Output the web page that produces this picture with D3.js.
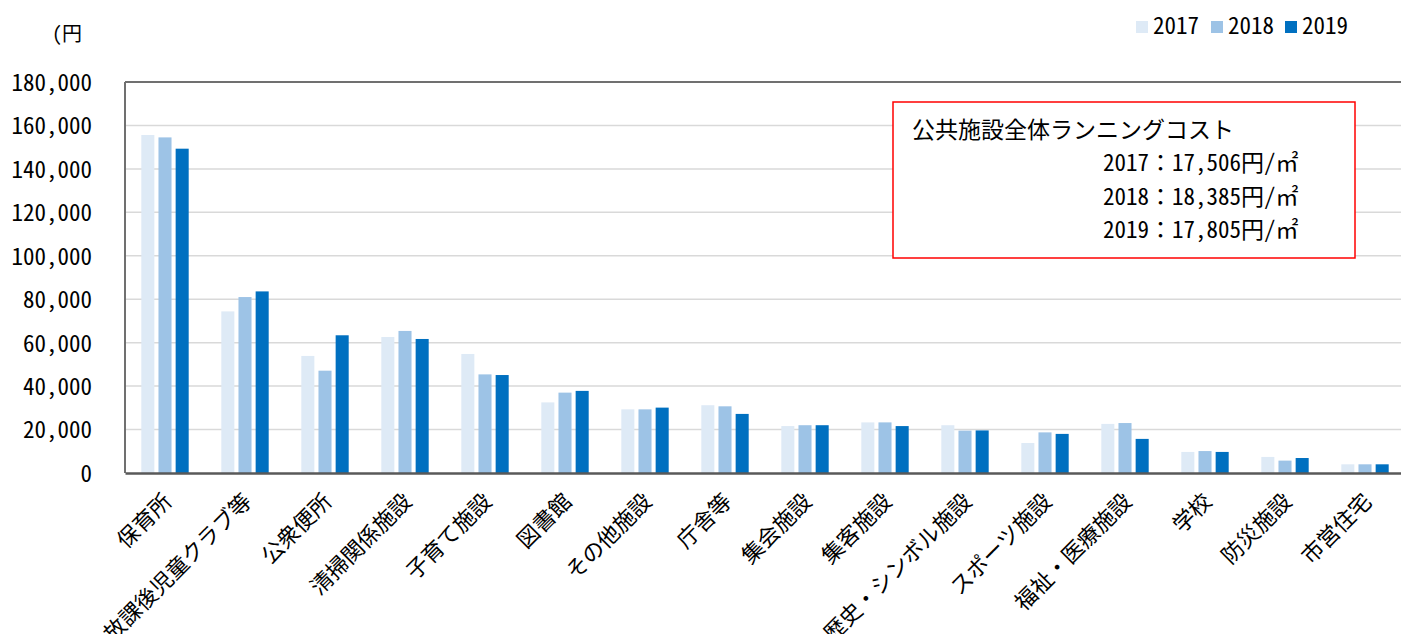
<!DOCTYPE html>
<html><head><meta charset="utf-8">
<script src="https://cdn.jsdelivr.net/npm/d3@7"></script>
<style>
html,body{margin:0;padding:0;background:#fff;}
svg{display:block;}
text{font-family:"Noto Sans Mono CJK JP","Noto Sans CJK JP",sans-serif;fill:#000;}
</style></head>
<body>
<svg id="chart" width="1401" height="634"></svg>
<script>
const categories = ["保育所","放課後児童クラブ等","公衆便所","清掃関係施設","子育て施設","図書館","その他施設","庁舎等","集会施設","集客施設","歴史・シンボル施設","スポーツ施設","福祉・医療施設","学校","防災施設","市営住宅"];
const seriesNames = ["2017","2018","2019"];
const values2017 = [155600,74400,53900,62600,54800,32500,29300,31200,21600,23300,22000,13800,22600,9700,7400,4000];
const values2018 = [154500,81000,47100,65400,45400,37000,29300,30700,22000,23300,19500,18700,23000,10100,5700,4000];
const values2019 = [149300,83600,63400,61700,45100,37800,30100,27200,22000,21600,19600,18000,15700,9700,6900,4000];
const yTicks = [0,20000,40000,60000,80000,100000,120000,140000,160000,180000];
const unitLabel = "(円";
const noteTitle = "公共施設全体ランニングコスト";
const noteLines = ["2017：17,506円/㎡","2018：18,385円/㎡","2019：17,805円/㎡"];
const colors = ["#DEEAF6","#9DC3E6","#0070C0"];

const FONT = '"Noto Sans Mono CJK JP","Noto Sans CJK JP",sans-serif';
const svg = d3.select("#chart");
const pL = 125, pR = 1405, pT = 82, pB = 473;

const x = d3.scaleBand().domain(categories).range([pL, pR]).paddingInner(0).paddingOuter(0);
const x1 = d3.scaleBand().domain(seriesNames).range([0, x.bandwidth()]).paddingInner(0.24).paddingOuter(0.95);
const y = d3.scaleLinear().domain([0,180000]).range([pB, pT]);

// gridlines
svg.append("g").selectAll("line").data(yTicks.filter(d=>d>0 && d<180000)).join("line")
  .attr("x1",pL).attr("x2",pR).attr("y1",d=>y(d)).attr("y2",d=>y(d))
  .attr("stroke","#d9d9d9").attr("stroke-width",1.5);

// y tick labels via axis
const yAxis = d3.axisLeft(y).tickValues(yTicks).tickSize(0).tickPadding(0)
  .tickFormat(d3.format(","));
const gy = svg.append("g").attr("transform",`translate(92,1)`).call(yAxis);
gy.select(".domain").remove();
gy.selectAll("text").style("font-size","23px").attr("fill","#000")
  .style("font-family",FONT);

// bars
const data = categories.map((c,i)=>({c, vals:[values2017[i],values2018[i],values2019[i]]}));
const groups = svg.append("g").selectAll("g").data(data).join("g")
  .attr("transform",d=>`translate(${x(d.c)},0)`);
groups.selectAll("rect").data(d=>d.vals.map((v,j)=>({v,s:seriesNames[j],j}))).join("rect")
  .attr("x",d=>x1(d.s)).attr("width",x1.bandwidth())
  .attr("y",d=>y(d.v)).attr("height",d=>pB-y(d.v))
  .attr("fill",d=>colors[d.j]);

// plot border top & left
svg.append("line").attr("x1",pL).attr("x2",pR).attr("y1",pT).attr("y2",pT)
  .attr("stroke","#707070").attr("stroke-width",2);
svg.append("line").attr("x1",pL).attr("x2",pL).attr("y1",pT).attr("y2",pB)
  .attr("stroke","#707070").attr("stroke-width",2);
// x axis
const xAxis = d3.axisBottom(x).tickSize(0).tickPadding(0);
const gx = svg.append("g").attr("transform",`translate(0,${pB})`).call(xAxis);
gx.select(".domain").attr("stroke","#595959").attr("stroke-width",2.5);
gx.selectAll(".tick text")
  .attr("text-anchor","end").attr("dy",0).attr("y",0)
  .attr("transform","translate(8,30) rotate(-45)")
  .style("font-size","22px").attr("fill","#000")
  .style("font-family",FONT);

// unit label
svg.append("text").attr("x",52).attr("y",41).style("font-size","20px").text(unitLabel);

// legend
const legX = [1136,1211,1285];
seriesNames.forEach((s,i)=>{
  svg.append("rect").attr("x",legX[i]).attr("y",21).attr("width",12).attr("height",12).attr("fill",colors[i]);
  svg.append("text").attr("x",legX[i]+17).attr("y",34).style("font-size","23px").text(s);
});

// note box
svg.append("rect").attr("x",893).attr("y",102).attr("width",462).attr("height",156)
  .attr("fill","#fff").attr("stroke","#ff0000").attr("stroke-width",1.5);
svg.append("text").attr("x",912).attr("y",138).style("font-size","23px").text(noteTitle);
noteLines.forEach((t,i)=>{
  svg.append("text").attr("x",1103).attr("y",171+i*33.5).style("font-size","23px").text(t);
});
</script>
</body></html>
